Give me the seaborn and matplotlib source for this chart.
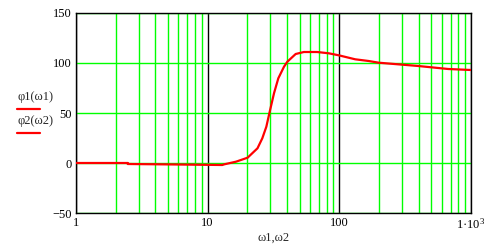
import numpy as np
import pandas as pd
import matplotlib
matplotlib.use("Agg")
import matplotlib.pyplot as plt
from matplotlib.lines import Line2D
from matplotlib.ticker import FixedLocator, FixedFormatter, LogLocator, NullFormatter
import seaborn as sns

# data
omega1 = [1.0, 2.47]
phi1 = [0.0, 0.0]
omega2 = [2.47, 5.9, 12.9, 13.4, 16.4, 20.1, 23.9, 26.0, 27.9, 29.6, 31.9, 34.4,
          38.0, 40.3, 46.6, 53.8, 67.8, 83.1, 99.0, 132.0, 167.0, 199.0, 398.0,
          671.0, 1000.0]
phi2 = [-1.0, -1.5, -2.0, -1.3, 1.3, 5.3, 14.7, 24.7, 36.3, 51.3, 69.7, 84.7,
        96.3, 101.3, 109.0, 111.0, 111.0, 109.7, 107.7, 103.7, 102.0, 100.3, 97.0,
        94.0, 93.0]
series_labels = ["φ1(ω1)", "φ2(ω2)"]
x_ticks = [1, 10, 100, 1000]
x_tick_labels = ["1", "10", "100", r"1·10$^{3}$"]
y_ticks = [-50, 0, 50, 100, 150]
x_label = "ω1,ω2"

df = pd.concat([
    pd.DataFrame({"w": omega1, "phi": phi1, "s": series_labels[0]}),
    pd.DataFrame({"w": omega2, "phi": phi2, "s": series_labels[1]}),
])

sns.set_style("white")
plt.rcParams["font.family"] = ["Liberation Serif", "DejaVu Serif"]
plt.rcParams["mathtext.fontset"] = "custom"
plt.rcParams["mathtext.rm"] = "Liberation Serif"
plt.rcParams["mathtext.it"] = "Liberation Serif"
plt.rcParams["mathtext.default"] = "regular"

fig = plt.figure(figsize=(4.89, 2.5), dpi=100)
ax = fig.add_axes([76 / 489, 37 / 250, (471 - 76) / 489, 200 / 250])

green = "#00ff00"
ax.set_xscale("log")
ax.set_xlim(1, 1000)
ax.set_ylim(-50, 150)
ax.xaxis.set_major_locator(FixedLocator(x_ticks))
ax.xaxis.set_major_formatter(FixedFormatter(x_tick_labels))
ax.xaxis.set_minor_locator(LogLocator(base=10, subs=np.arange(2, 10)))
ax.xaxis.set_minor_formatter(NullFormatter())
ax.set_yticks(y_ticks)
ax.grid(which="minor", axis="x", color=green, linewidth=1.0)
ax.grid(which="major", axis="x", color="black", linewidth=1.0)
ax.grid(which="major", axis="y", color=green, linewidth=1.0)
ax.set_axisbelow(True)

sns.lineplot(data=df, x="w", y="phi", hue="s", palette=["#ff0000", "#ff0000"],
             linewidth=1.6, legend=False, ax=ax, sort=False, zorder=3)

for sp in ax.spines.values():
    sp.set_color("black")
    sp.set_linewidth(1.0)
    sp.set_visible(True)

ax.tick_params(axis="both", which="both", length=0, labelsize=9, colors="black", pad=3)
ax.set_xlabel(x_label, fontsize=9, labelpad=0)
ax.set_ylabel("")

# legend at left
fig.text(17 / 489, 1 - 97 / 250, series_labels[0], fontsize=9, va="center", ha="left")
fig.add_artist(Line2D([17 / 489, 40 / 489], [1 - 109 / 250] * 2, color="#ff0000", linewidth=1.6))
fig.text(17 / 489, 1 - 121 / 250, series_labels[1], fontsize=9, va="center", ha="left")
fig.add_artist(Line2D([17 / 489, 40 / 489], [1 - 133 / 250] * 2, color="#ff0000", linewidth=1.6))

fig.savefig("out.png", dpi=100)
